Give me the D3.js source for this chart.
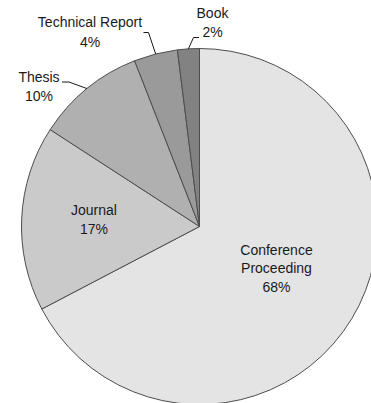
<!DOCTYPE html>
<html>
<head>
<meta charset="utf-8">
<script src="https://cdn.jsdelivr.net/npm/d3@7"></script>
<style>
  html, body { margin: 0; padding: 0; background: #fff; }
  svg { display: block; }
  text { font-family: "Liberation Sans", Arial, Helvetica, sans-serif; font-size: 14px; fill: #1a1a1a; }
</style>
</head>
<body>
<svg id="chart" width="371" height="403"></svg>
<script>
// Publication types and their shares (%)
const categories = ["Conference Proceeding", "Journal", "Thesis", "Technical Report", "Book"];
const shares = [68, 17, 10, 4, 2];
const fills = ["#e4e4e4", "#cacaca", "#b0b0b0", "#9a9a9a", "#828282"];

// Label placement: text lines centred on x, first baseline at y.
// Outside labels get a leader line from the slice edge to a hook point.
const labelLayout = [
  { lines: ["Conference", "Proceeding"], x: 276.5, y: 254.5, gap: 18.5 },
  { lines: ["Journal"], x: 94, y: 215, gap: 19 },
  { lines: ["Thesis"], x: 39, y: 82, gap: 18.5, hook: [[62, 82], [69, 82]] },
  { lines: ["Technical Report"], x: 90, y: 26.5, gap: 20, hook: [[143.5, 32.5], [148.5, 32.5]] },
  { lines: ["Book"], x: 212.5, y: 18.3, gap: 18.4, hook: [[199, 37.5], [193.5, 37.5]] }
];

const svg = d3.select("#chart");
const cx = 199.5, cy = 226.5, radius = 178;

const pie = d3.pie().sort(null).value(d => d.value);
const arcs = pie(categories.map((c, i) => ({ name: c, value: shares[i], fill: fills[i] })));
const arc = d3.arc().innerRadius(0).outerRadius(radius);

const g = svg.append("g").attr("transform", `translate(${cx},${cy})`);

g.selectAll("path.slice")
  .data(arcs)
  .join("path")
  .attr("class", "slice")
  .attr("d", arc)
  .attr("fill", d => d.data.fill)
  .attr("stroke", "#4d4d4d")
  .attr("stroke-width", 1)
  .attr("stroke-linejoin", "round");

// Leader lines for the small slices
const line = d3.line();
arcs.forEach((a, i) => {
  const lay = labelLayout[i];
  if (!lay.hook) return;
  const mid = (a.startAngle + a.endAngle) / 2;
  const edge = [cx + radius * Math.sin(mid), cy - radius * Math.cos(mid)];
  svg.append("path")
    .attr("d", line([lay.hook[0], lay.hook[1], edge]))
    .attr("fill", "none")
    .attr("stroke", "#1a1a1a")
    .attr("stroke-width", 1);
});

// Category and percentage labels
arcs.forEach((a, i) => {
  const lay = labelLayout[i];
  const lines = lay.lines.concat([a.data.value + "%"]);
  const t = svg.append("text")
    .attr("text-anchor", "middle")
    .attr("x", lay.x)
    .attr("y", lay.y);
  lines.forEach((s, k) => {
    t.append("tspan")
      .attr("x", lay.x)
      .attr("dy", k === 0 ? 0 : lay.gap)
      .text(s);
  });
});
</script>
</body>
</html>
